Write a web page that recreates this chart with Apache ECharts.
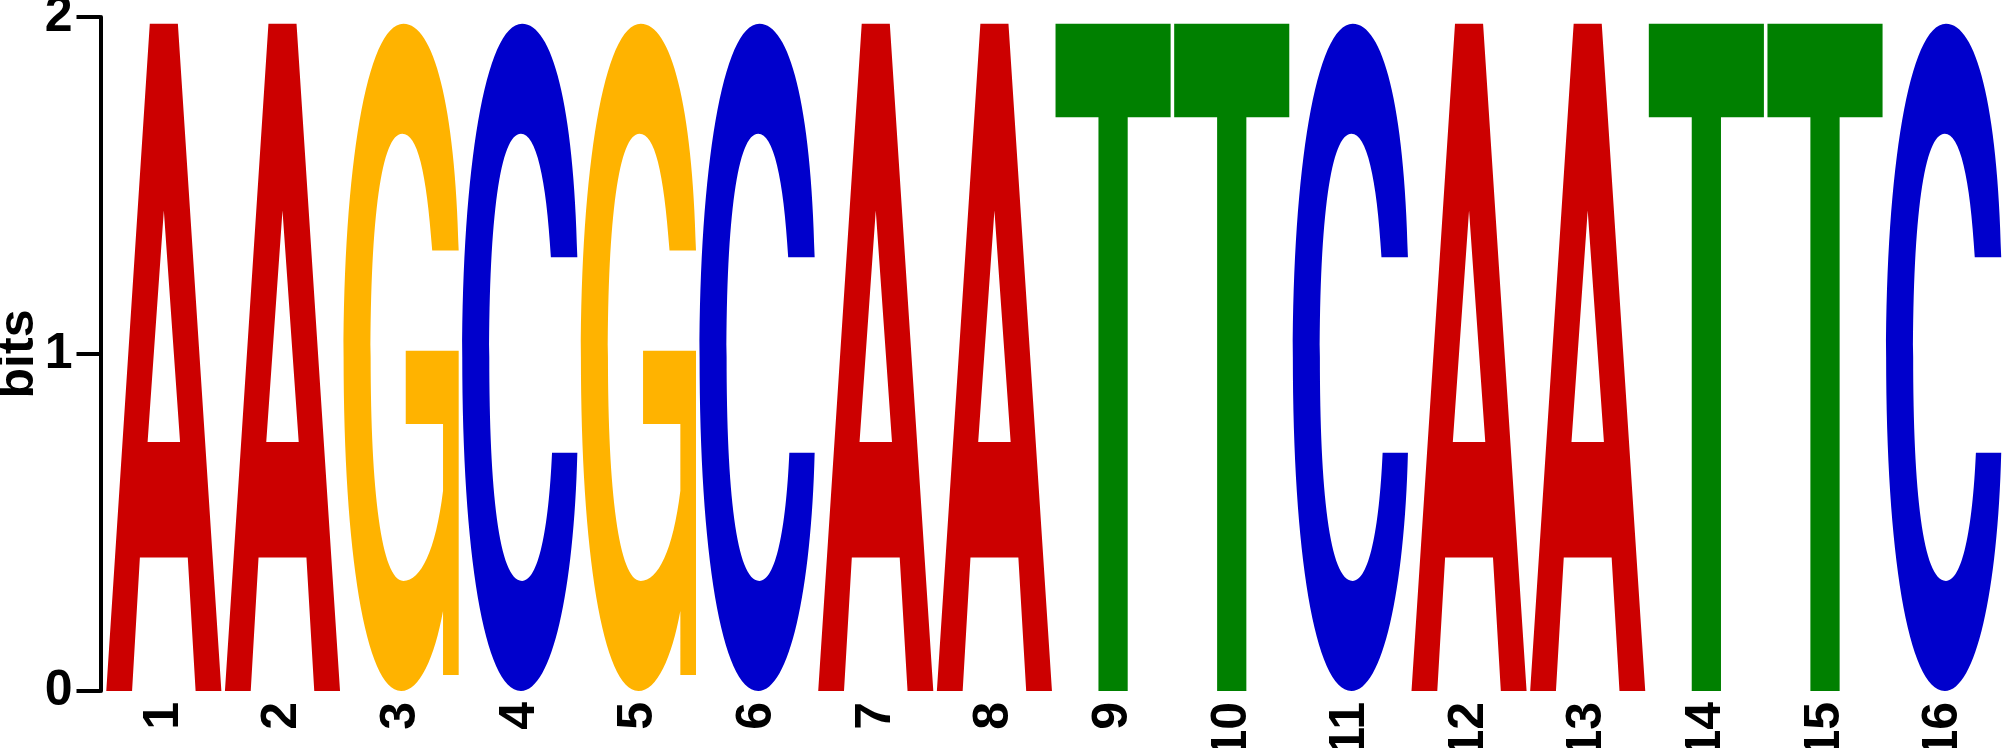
<!DOCTYPE html>
<html>
<head>
<meta charset="utf-8">
<script src="https://cdn.jsdelivr.net/npm/echarts@6/dist/echarts.min.js"></script>
<style>
  html, body { margin: 0; padding: 0; background: #fff; }
  #logo { width: 2003px; height: 748px; }
</style>
</head>
<body>
<div id="logo"></div>
<script>
// sequence logo data: one letter per position, stack height in bits
const positions = ['1', '2', '3', '4', '5', '6', '7', '8', '9', '10', '11', '12', '13', '14', '15', '16'];
const letters = ['A', 'A', 'G', 'C', 'G', 'C', 'A', 'A', 'T', 'T', 'C', 'A', 'A', 'T', 'T', 'C'];
const heights = [1.98, 1.98, 1.98, 1.98, 1.98, 1.98, 1.98, 1.98, 1.98, 1.98, 1.98, 1.98, 1.98, 1.98, 1.98, 1.98];
const yTicks = [0, 1, 2];

// letter outlines drawn in a 100x100 box, stretched to each stack
const glyphs = {
  A: {
    color: '#CC0000',
    d: 'M37.8,0 L62.2,0 L100,100 L77.6,100 L70.8,80 L29.2,80 L22.4,100 L0,100 Z ' +
       'M50,28 L35.9,62.7 L64.1,62.7 Z'
  },
  C: {
    color: '#0000CC',
    d: 'M100,35 C97,12 78,0 52,0 C20,0 0,22 0,50 C0,79 19,100 51,100 ' +
       'C78,100 97,85 100,64.3 L78,64.3 C75,76 66,83.5 52,83.5 ' +
       'C32,83.5 23.5,70 23.5,50 C23.5,29 33,16.5 51,16.5 C64,16.5 73,23 77,35 Z'
  },
  G: {
    color: '#FFB300',
    d: 'M100,34 C97,12 78,0 52,0 C20,0 0,22 0,50 C0,79 19,100 50,100 ' +
       'C66,100 79,95 86.4,88 L86.4,97.6 L100,97.6 L100,49 L54,49 L54,60 L86.4,60 L86.4,70 ' +
       'C80,79 67,83.5 52,83.5 C33,83.5 23.5,70 23.5,50 C23.5,29 33,16.5 51,16.5 ' +
       'C64,16.5 72,22 77,34 Z'
  },
  T: {
    color: '#008000',
    d: 'M0,0 L100,0 L100,14 L62.7,14 L62.7,100 L37.3,100 L37.3,14 L0,14 Z'
  }
};

const chart = echarts.init(document.getElementById('logo'));

const seriesData = positions.map((p, i) => [i, heights[i], letters[i]]);

function renderLetter(params, api) {
  const idx = api.value(0);
  const h = api.value(1);
  const g = glyphs[seriesData[params.dataIndex][2]];
  const base = api.coord([idx, 0]);
  const top = api.coord([idx, h]);
  const w = api.size([1, 0])[0] * 0.97;
  return {
    type: 'path',
    x: base[0] - w / 2,
    y: top[1],
    scaleX: w / 100,
    scaleY: (base[1] - top[1]) / 100,
    shape: { pathData: g.d },
    style: { fill: g.color }
  };
}

const labelFont = {
  fontFamily: 'Liberation Sans',
  fontWeight: 'bold',
  fontSize: 50,
  color: '#000'
};

chart.setOption({
  animation: false,
  grid: { left: 104.5, right: 0, top: 17, bottom: 57, outerBoundsMode: 'none' },
  xAxis: {
    type: 'category',
    data: positions,
    boundaryGap: true,
    axisLine: { show: false },
    axisTick: { show: false },
    axisLabel: Object.assign({ rotate: 90, margin: 11, interval: 0 }, labelFont)
  },
  yAxis: {
    type: 'value',
    min: yTicks[0],
    max: yTicks[yTicks.length - 1],
    interval: yTicks[1] - yTicks[0],
    offset: 4,
    name: 'bits',
    nameLocation: 'middle',
    nameGap: 56,
    nameMoveOverlap: false,
    nameTextStyle: labelFont,
    splitLine: { show: false },
    axisLine: { show: true, lineStyle: { color: '#000', width: 4 } },
    axisTick: { show: true, length: 24, lineStyle: { color: '#000', width: 4 } },
    axisLabel: Object.assign({ margin: 28 }, labelFont)
  },
  series: [{
    type: 'custom',
    renderItem: renderLetter,
    encode: { x: 0, y: 1 },
    data: seriesData
  }]
});
</script>
</body>
</html>
